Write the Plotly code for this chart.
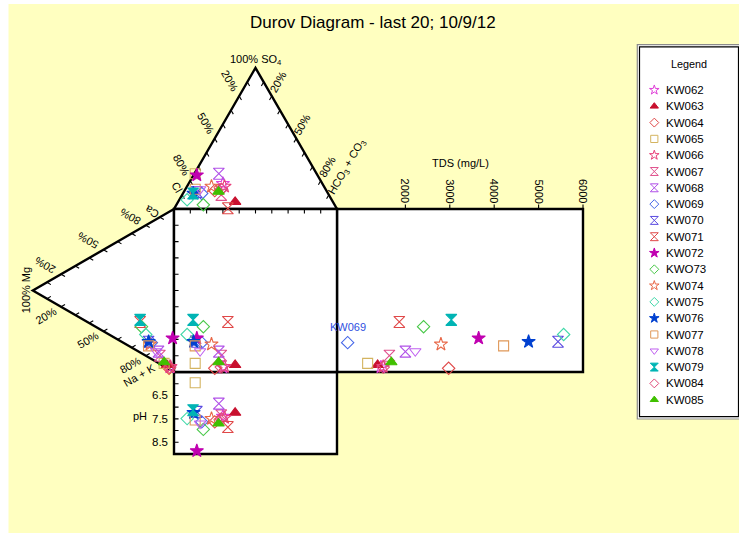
import math
import plotly.graph_objects as go

# ---------------- data ----------------
samples = ["KW062", "KW063", "KW064", "KW065", "KW066", "KW067", "KW068", "KW069", "KW070", "KW071",
           "KW072", "KW073", "KW074", "KW075", "KW076", "KW077", "KW078", "KW079", "KW084", "KW085"]
legend_names = ["KW062", "KW063", "KW064", "KW065", "KW066", "KW067", "KW068", "KW069", "KW070", "KW071",
                "KW072", "KWO73", "KW074", "KW075", "KW076", "KW077", "KW078", "KW079", "KW084", "KW085"]

# anions (% meq)
so4 = [18, 5, 13, 25, 16, 10, 25, 11, 12, 0.5, 24, 3, 16, 6.5, 11, 14, 14, 11, 14, 12.3]
hco3 = [21, 35, 18.5, 0.5, 23, 24, 15, 11.5, 8, 32.8, 2, 16.5, 15, 4.8, 6.5, 6, 9, 6.2, 22, 21.2]
cl = [61, 60, 68.5, 74.5, 61, 66, 60, 77.5, 80, 66.7, 74, 80.5, 69, 88.7, 82.5, 80, 77, 82.8, 64, 66.5]
# cations (% meq)
ca = [1.5, 1.8, 0.5, 1.8, 2, 5, 7, 10, 9.6, 18.7, 20.2, 16.3, 8.5, 13, 9.6, 7, 6.5, 20, 1.5, 2.5]
mg = [3, 5, 3.5, 7, 2.5, 10, 11, 16, 18, 24, 1, 23, 17, 20, 18, 18, 12.5, 24, 3, 7]
nak = [95.5, 93.2, 96, 91.2, 95.5, 85, 82, 74, 72.4, 57.3, 78.8, 60.7, 74.5, 67, 72.4, 75, 81, 56, 95.5, 90.5]
# TDS (mg/L) and pH
tds = [1450, 1375, 2974, 1150, 1500, 1640, 2000, 700, 5437, 1863,
       3650, 2410, 2800, 5564, 4775, 4212, 2223, 3034, 1500, 1683]
ph = [7.4, 7.24, 7.63, 5.96, 7.45, 7.35, 6.85, 7.63, 7.2, 7.85,
      8.87, 7.95, 7.49, 7.49, 7.24, 7.55, 7.7, 7.13, 7.5, 7.7]

tds_ticks = [2000, 3000, 4000, 5000, 6000]
ph_ticks = [6.0, 6.5, 7.0, 7.5, 8.0, 8.5]
ph_labels = [6.5, 7.5, 8.5]
pct_labels = [20, 50, 80]

# ---------------- styles ----------------
symbols = ["star-open", "triangle-up", "diamond-open", "square-open", "star-open", "hourglass-open",
           "hourglass-open", "diamond-open", "hourglass-open", "hourglass-open", "star", "diamond-open",
           "star-open", "diamond-open", "star", "square-open", "triangle-down-open", "hourglass",
           "diamond-open", "triangle-up"]
colors = ["#E040D8", "#C8102E", "#E04848", "#D4B460", "#E8407A", "#E0508C", "#B050E8", "#4466E8",
          "#5A4AE0", "#E04848", "#C000B0", "#48C848", "#E86848", "#40D8A8", "#0040D0", "#E09858",
          "#C060F0", "#00B4B4", "#E04878", "#40C000"]
size_by_symbol = {"star": 10, "triangle-up": 10, "diamond": 9.5, "square": 10,
                  "hourglass": 11, "triangle-down": 10}

FONT = "Liberation Sans, Arial, sans-serif"
YELLOW = "#FFFFC0"

# ---------------- geometry (square = 100 x 100 units) ----------------
H = math.sqrt(3) / 2
U = 1.63            # px per unit
W, HGT = 739, 533
X0 = -174 / U
Y1 = 372 / U
TDS_MIN, TDS_MAX, TDS_W = 460, 6000, 246 / U
PH_MIN, PH_MAX, PH_H = 5.5, 9.0, 82 / U


def anion_xy(c, s, h):
    t = c + s + h
    s, h = s / t * 100, h / t * 100
    return h + s / 2, 100 + s * H


def cation_xy(c, m, n):
    t = c + m + n
    c, m = c / t * 100, m / t * 100
    return -m * H, c + m / 2


def tds_x(t):
    return 100 + (t - TDS_MIN) / (TDS_MAX - TDS_MIN) * TDS_W


def ph_y(p):
    return -(p - PH_MIN) / (PH_MAX - PH_MIN) * PH_H


fig = go.Figure()

# ---------------- frame shapes ----------------
shapes = []
shapes.append(dict(type="rect", xref="paper", yref="paper", x0=8.5 / W, x1=1, y0=0, y1=1 - 4 / HGT,
                   fillcolor=YELLOW, line=dict(width=0), layer="below"))
# legend box
shapes.append(dict(type="rect", xref="paper", yref="paper", x0=637.3 / W, x1=741 / W,
                   y0=1 - 419 / HGT, y1=1 - 44.7 / HGT, fillcolor="white",
                   line=dict(color="#8C8C8C", width=1.2), layer="below"))
shapes.append(dict(type="rect", xref="paper", yref="paper", x0=639.5 / W, x1=738.5 / W,
                   y0=1 - 416.7 / HGT, y1=1 - 46.8 / HGT, fillcolor="rgba(0,0,0,0)",
                   line=dict(color="black", width=1.2), layer="below"))

LW = 2.4
ax, ay = anion_xy(0, 100, 0)
cx, cy = cation_xy(0, 100, 0)
shapes.append(dict(type="path", path=f"M0,100 L100,100 L{ax},{ay} Z", fillcolor="white",
                   line=dict(color="black", width=LW), layer="below"))
shapes.append(dict(type="path", path=f"M0,100 L0,0 L{cx},{cy} Z", fillcolor="white",
                   line=dict(color="black", width=LW), layer="below"))
shapes.append(dict(type="rect", x0=100, x1=100 + TDS_W, y0=0, y1=100, fillcolor="white",
                   line=dict(color="black", width=LW), layer="below"))
shapes.append(dict(type="rect", x0=0, x1=100, y0=-PH_H, y1=0, fillcolor="white",
                   line=dict(color="black", width=LW), layer="below"))
shapes.append(dict(type="rect", x0=0, x1=100, y0=0, y1=100, fillcolor="white",
                   line=dict(color="black", width=LW), layer="below"))

# ticks
L = 2.8
segs = []
for v in range(10, 100, 10):
    p = anion_xy(v, 100 - v, 0); segs.append((p, (0.5, -H)))
    p = anion_xy(0, 100 - v, v); segs.append((p, (-0.5, -H)))
    p = cation_xy(v, 100 - v, 0); segs.append((p, (H, -0.5)))
    p = cation_xy(0, 100 - v, v); segs.append((p, (H, 0.5)))
    segs.append(((v, 100), (0, -1)))
    segs.append(((0, v), (1, 0)))
for t in tds_ticks:
    segs.append(((tds_x(t), 100), (0, 1)))
for p in ph_ticks:
    segs.append(((0, ph_y(p)), (1, 0)))
path = " ".join(f"M{p[0]:.3f},{p[1]:.3f} L{p[0] + L * d[0]:.3f},{p[1] + L * d[1]:.3f}" for p, d in segs)
shapes.append(dict(type="path", path=path, line=dict(color="black", width=1.1), layer="below"))

# ---------------- annotations ----------------
ann = []


def txt(x, y, text, size=11, angle=0, xshift=0, yshift=0, xanchor="center", yanchor="middle",
        color="black", xref="x", yref="y"):
    ann.append(dict(x=x, y=y, xref=xref, yref=yref, text=text, showarrow=False, textangle=angle,
                    xshift=xshift, yshift=yshift, xanchor=xanchor, yanchor=yanchor,
                    font=dict(family=FONT, size=size, color=color)))


for v in pct_labels:
    px_, py_ = anion_xy(v, 100 - v, 0)
    d = 11
    txt(px_ - 0.5 * d, py_ + H * d, f"{v}%", angle=60)
    px_, py_ = anion_xy(0, 100 - v, v)
    d = 10
    txt(px_ + 0.5 * d, py_ + H * d, f"{v}%", angle=-60, xshift=-2)
    px_, py_ = cation_xy(v, 100 - v, 0)
    d = 11
    txt(px_ - H * d, py_ + 0.5 * d, f"{v}%", angle=-150)
    px_, py_ = cation_xy(0, 100 - v, v)
    txt(px_ - H * d, py_ - 0.5 * d, f"{v}%", angle=-30)

txt(ax, ay, "100% SO<sub>4</sub>", yanchor="bottom", yshift=-1)
txt(0, 100, "Cl", angle=60, xshift=3, yshift=22)
txt(100, 100, "HCO<sub>3</sub> + CO<sub>3</sub>", angle=-60, xshift=10, yshift=42)
txt(cx, cy, "100% Mg", angle=-90, xshift=-7)
txt(0, 100, "Ca", angle=-150, xshift=-22, yshift=-3)
txt(0, 0, "Na + K", angle=-30, xshift=-34.5, yshift=-3)

for t in tds_ticks:
    txt(tds_x(t), 100, str(t), angle=90, yanchor="bottom", yshift=4)
txt(100 + TDS_W / 2, 100, "TDS (mg/L)", yshift=46)

for p in ph_labels:
    txt(0, ph_y(p), f"{p}", xanchor="right", xshift=-4.5, size=11.5)
txt(0, ph_y((PH_MIN + PH_MAX) / 2 + 0.13), "pH", xshift=-34)

# KW069 label in the TDS field
i69 = samples.index("KW069")
_, y69 = cation_xy(ca[i69], mg[i69], nak[i69])
txt(tds_x(tds[i69]), y69, "KW069", yshift=16, color="#2F50E0")

# title
ann.append(dict(x=372.5 / W, y=1 - 22 / HGT, xref="paper", yref="paper", showarrow=False,
                text="Durov Diagram - last 20; 10/9/12", xanchor="center", yanchor="middle",
                font=dict(family=FONT, size=17, color="black")))
# legend title
ann.append(dict(x=688.7 / W, y=1 - 64 / HGT, xref="paper", yref="paper", showarrow=False,
                text="Legend", xanchor="center", yanchor="middle",
                font=dict(family=FONT, size=10.8, color="black")))

# ---------------- sample traces ----------------
for i, name in enumerate(samples):
    axp = anion_xy(cl[i], so4[i], hco3[i])
    cxp = cation_xy(ca[i], mg[i], nak[i])
    xs = [axp[0], cxp[0], axp[0], tds_x(tds[i]), axp[0]]
    ys = [axp[1], cxp[1], cxp[1], cxp[1], ph_y(ph[i])]
    base = symbols[i].replace("-open", "")
    fig.add_trace(go.Scatter(
        x=xs, y=ys, mode="markers", name=name, showlegend=False, hoverinfo="name",
        marker=dict(symbol=symbols[i], size=size_by_symbol[base], color=colors[i],
                    line=dict(width=1.1, color=colors[i]))))

# ---------------- legend (drawn on its own axes) ----------------
for i, name in enumerate(legend_names):
    base = symbols[i].replace("-open", "")
    fig.add_trace(go.Scatter(
        x=[0], y=[i], xaxis="x2", yaxis="y2", mode="markers", showlegend=False, hoverinfo="skip",
        marker=dict(symbol=symbols[i], size=size_by_symbol[base] * 0.72, color=colors[i],
                    line=dict(width=1, color=colors[i]))))
    ann.append(dict(x=10, y=i, xref="x2", yref="y2", text=name, showarrow=False,
                    xanchor="left", yanchor="middle",
                    font=dict(family=FONT, size=11.5, color="black")))

LEG_TOP, LEG_STEP = 90, 16.3

fig.update_layout(
    width=W, height=HGT, autosize=False,
    margin=dict(l=0, r=0, t=0, b=0, pad=0),
    paper_bgcolor="white", plot_bgcolor="rgba(0,0,0,0)",
    showlegend=False,
    xaxis=dict(domain=[0, 1], range=[X0, X0 + W / U], visible=False, fixedrange=True),
    yaxis=dict(domain=[0, 1], range=[Y1 - HGT / U, Y1], visible=False, fixedrange=True),
    xaxis2=dict(domain=[637 / W, 1], range=[-17.3, -17.3 + 102], visible=False, fixedrange=True,
                anchor="y2"),
    yaxis2=dict(domain=[0, 1], range=[(HGT - LEG_TOP) / LEG_STEP, -LEG_TOP / LEG_STEP],
                visible=False, fixedrange=True, anchor="x2"),
    shapes=shapes,
    annotations=ann,
)

fig.write_html("out.html", config={"displayModeBar": False},
               post_script="document.body.style.margin='0';document.body.style.overflow='hidden';")
